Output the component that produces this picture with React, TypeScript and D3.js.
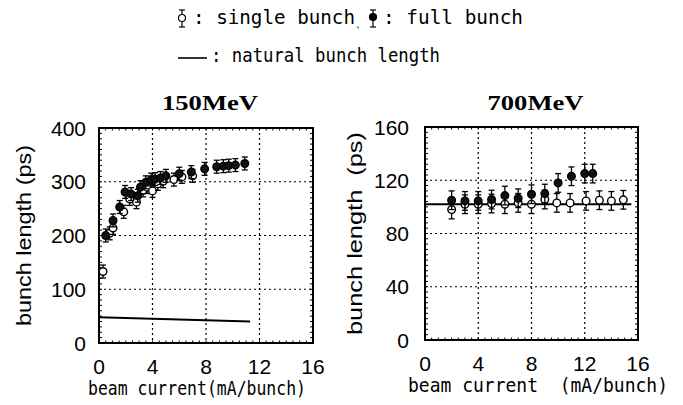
import React from 'react';
import * as d3 from 'd3';

// 150 MeV panel (current mA/bunch, bunch length ps)
const fullLow = [
  [0.5, 200], [1.05, 228], [1.55, 253], [1.95, 281], [2.4, 277], [2.9, 274],
  [3.1, 290], [3.5, 299], [3.9, 304], [4.2, 305], [4.6, 307], [5.0, 311],
  [6.0, 315], [6.9, 318], [7.9, 324], [8.8, 328], [9.3, 329], [9.7, 330],
  [10.2, 331], [10.9, 334],
];
const singleLow = [
  [0.3, 133], [0.8, 204], [1.05, 214], [1.85, 244], [2.3, 268], [2.8, 262],
  [3.3, 284], [3.6, 290], [4.0, 283], [4.4, 296], [4.8, 301], [5.6, 304],
  [6.2, 309], [7.0, 311],
];
const naturalLow = [[0, 48], [11.3, 40]];

// 700 MeV panel
const fullHigh = [
  [2, 105], [3, 104.5], [4, 104.5], [5, 105.5], [6, 108.5], [7, 106.5],
  [8, 109.5], [9, 110], [10, 118], [11, 123], [12, 125], [12.6, 125],
];
const singleHigh = [
  [2, 98], [3, 102], [4, 102], [5, 102.5], [6, 102], [7, 103], [8, 102],
  [9, 105.5], [9.9, 103], [10.9, 103], [12.1, 104.5], [13.1, 105], [14, 104.5],
  [14.9, 105.3],
];
const naturalHigh = [[0, 102], [15.5, 102]];

const xTicks = [0, 4, 8, 12, 16];
const yTicksLow = [0, 100, 200, 300, 400];
const yTicksHigh = [0, 40, 80, 120, 160];

const mono = '"DejaVu Sans Mono", "Liberation Mono", monospace';
const sans = '"Liberation Sans", Arial, sans-serif';
const serif = '"Liberation Serif", "Times New Roman", serif';

type Pt = number[];

function Panel(props: {
  left: number; right: number; top: number; bottom: number;
  yMax: number; yTicks: number[]; minorStep: number; err: number;
  full: Pt[]; single: Pt[]; natural: Pt[];
  title: string; xLabel: string; xLabelStart: number; xLabelLen: number;
  yLabel: string; yLabelX: number; yLabelLen: number; tickRight: number;
}) {
  const x = d3.scaleLinear().domain([0, 16]).range([props.left, props.right]);
  const y = d3.scaleLinear().domain([0, props.yMax]).range([props.bottom, props.top]);
  const line = d3.line<Pt>().x(d => x(d[0])).y(d => y(d[1]));
  const minorY = d3.range(0, props.yMax + 0.001, props.minorStep);
  const minorX = d3.range(0, 16.001, 0.5);
  const r = 3.8;
  const cap = 3;

  const marker = (d: Pt, i: number, filled: boolean) => (
    <g key={(filled ? 'f' : 's') + i}>
      <line x1={x(d[0])} x2={x(d[0])} y1={y(d[1] - props.err)} y2={y(d[1] + props.err)} stroke="#000" strokeWidth={1.3} />
      <line x1={x(d[0]) - cap} x2={x(d[0]) + cap} y1={y(d[1] - props.err)} y2={y(d[1] - props.err)} stroke="#000" strokeWidth={1.3} />
      <line x1={x(d[0]) - cap} x2={x(d[0]) + cap} y1={y(d[1] + props.err)} y2={y(d[1] + props.err)} stroke="#000" strokeWidth={1.3} />
      <circle cx={x(d[0])} cy={y(d[1])} r={r} fill={filled ? '#111' : '#fff'} stroke="#000" strokeWidth={1.4} />
    </g>
  );

  const midY = (props.top + props.bottom) / 2;

  return (
    <g>
      {/* grid */}
      {xTicks.slice(1, -1).map(t => (
        <line key={'gx' + t} x1={x(t)} x2={x(t)} y1={props.top} y2={props.bottom} stroke="#000" strokeWidth={1.2} strokeDasharray="2,3" />
      ))}
      {props.yTicks.slice(1, -1).map(t => (
        <line key={'gy' + t} x1={props.left} x2={props.right} y1={y(t)} y2={y(t)} stroke="#000" strokeWidth={1.2} strokeDasharray="2,3" />
      ))}
      {/* minor ticks */}
      {minorY.map(t => (
        <g key={'my' + t}>
          <line x1={props.left} x2={props.left + 3} y1={y(t)} y2={y(t)} stroke="#000" strokeWidth={1} />
          <line x1={props.right} x2={props.right - 3} y1={y(t)} y2={y(t)} stroke="#000" strokeWidth={1} />
        </g>
      ))}
      {minorX.map(t => (
        <g key={'mx' + t}>
          <line x1={x(t)} x2={x(t)} y1={props.bottom} y2={props.bottom - 2.5} stroke="#000" strokeWidth={1} />
          <line x1={x(t)} x2={x(t)} y1={props.top} y2={props.top + 2.5} stroke="#000" strokeWidth={1} />
        </g>
      ))}
      {/* frame */}
      <rect x={props.left} y={props.top} width={props.right - props.left} height={props.bottom - props.top} fill="none" stroke="#000" strokeWidth={2} />
      {/* natural bunch length */}
      <path d={line(props.natural) || ''} fill="none" stroke="#000" strokeWidth={2} />
      {props.single.map((d, i) => marker(d, i, false))}
      {props.full.map((d, i) => marker(d, i, true))}
      {/* tick labels */}
      {xTicks.map(t => (
        <text key={'xt' + t} x={x(t)} y={props.bottom + 31} textAnchor="middle" fontFamily={sans} fontSize={21}>{t}</text>
      ))}
      {props.yTicks.map(t => (
        <text key={'yt' + t} x={props.tickRight} y={y(t) + 7.5} textAnchor="end" fontFamily={sans} fontSize={21}>{t}</text>
      ))}
      {/* titles */}
      <text x={(props.left + props.right) / 2 + 4} y={110} textAnchor="middle" fontFamily={serif} fontWeight="bold" fontSize={22} textLength={96} lengthAdjust="spacingAndGlyphs">{props.title}</text>
      <text x={props.xLabelStart} y={props.bottom + 52} fontFamily={mono} fontSize={19} textLength={props.xLabelLen} lengthAdjust="spacingAndGlyphs" xmlSpace="preserve">{props.xLabel}</text>
      <text transform={`translate(${props.yLabelX},${midY}) rotate(-90)`} textAnchor="middle" fontFamily={sans} fontSize={21} textLength={props.yLabelLen} lengthAdjust="spacingAndGlyphs" xmlSpace="preserve">{props.yLabel}</text>
    </g>
  );
}

export default function App() {
  return (
    <svg width={683} height={405} style={{ position: 'absolute', left: 0, top: 0, background: '#fff' }}>
      <rect width={683} height={405} fill="#fff" />
      {/* legend */}
      <g fontFamily={mono} fontSize={19}>
        <g stroke="#000" strokeWidth={1.2}>
          <line x1={182} x2={182} y1={10} y2={27} />
          <line x1={179} x2={185} y1={10} y2={10} />
          <line x1={179} x2={185} y1={27} y2={27} />
          <circle cx={182} cy={18} r={3.5} fill="#fff" />
          <line x1={373} x2={373} y1={10} y2={27} />
          <line x1={370} x2={376} y1={10} y2={10} />
          <line x1={370} x2={376} y1={27} y2={27} />
          <circle cx={373} cy={17} r={3.5} fill="#000" />
          <line x1={178} x2={207} y1={58} y2={58} strokeWidth={1.6} />
        </g>
        <text x={193} y={24} textLength={162} lengthAdjust="spacingAndGlyphs" xmlSpace="preserve">: single bunch</text>
        <text x={355} y={27} fontSize={13}>、</text>
        <text x={383} y={24} textLength={140} lengthAdjust="spacingAndGlyphs" xmlSpace="preserve">: full bunch</text>
        <text x={211} y={62} textLength={229} lengthAdjust="spacingAndGlyphs" xmlSpace="preserve">: natural bunch length</text>
      </g>
      <Panel left={99} right={313} top={128} bottom={343} yMax={400} yTicks={yTicksLow}
        minorStep={10} err={12} full={fullLow} single={singleLow} natural={naturalLow}
        title="150MeV" xLabel="beam current(mA/bunch)" xLabelStart={88} xLabelLen={218}
        yLabel="bunch length (ps)" yLabelX={31} yLabelLen={181} tickRight={86} />
      <Panel left={425} right={638} top={127} bottom={340} yMax={160} yTicks={yTicksHigh}
        minorStep={4} err={7} full={fullHigh} single={singleHigh} natural={naturalHigh}
        title="700MeV" xLabel="beam current  (mA/bunch)" xLabelStart={408} xLabelLen={260}
        yLabel="bunch length  (ps)" yLabelX={362} yLabelLen={203} tickRight={409} />
    </svg>
  );
}
